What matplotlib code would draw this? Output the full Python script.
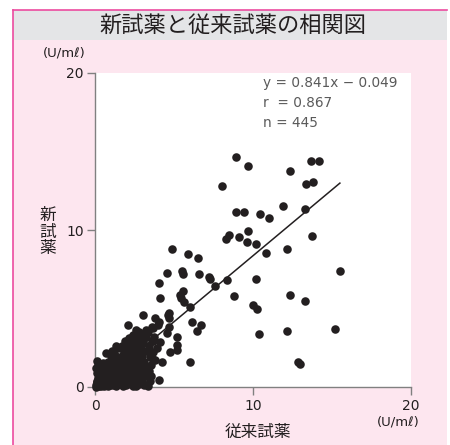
import matplotlib
matplotlib.use("Agg")
import matplotlib.pyplot as plt
from matplotlib.patches import Rectangle
from matplotlib.lines import Line2D
import numpy as np

plt.rcParams['font.family'] = ['Noto Sans CJK JP', 'DejaVu Sans']
num_font = ['DejaVu Sans', 'Noto Sans CJK JP']

# Données : réactif conventionnel (x) / nouveau réactif (y), en U/mℓ
x_outer = [8.92, 9.68, 8.04, 8.92, 9.43, 10.44, 11.01, 8.48, 8.29, 9.11,
           9.68, 9.62, 10.19, 4.87, 5.89, 6.52, 10.82, 13.67, 14.18, 12.34,
           13.35, 13.80, 11.90, 13.29, 12.15, 13.73, 15.51, 10.19, 12.34, 13.29,
           10.00, 10.25, 10.38, 12.15, 15.19, 12.85, 12.97]
y_outer = [14.65, 14.08, 12.80, 11.15, 11.15, 11.02, 10.76, 9.68, 9.43, 9.55,
           9.94, 9.24, 9.11, 8.79, 8.47, 8.22, 8.54, 14.39, 14.39, 13.76,
           12.93, 13.06, 11.53, 11.34, 8.79, 9.62, 7.39, 6.88, 5.86, 5.48,
           5.22, 4.97, 3.38, 3.57, 3.69, 1.59, 1.46]

x_mid = [4.56, 5.51, 5.57, 6.58, 7.22, 7.28, 8.35, 4.05, 7.59, 5.57,
         5.38, 4.11, 5.44, 5.63, 6.01, 8.80, 3.04, 4.68, 4.68, 3.80,
         4.05, 6.14, 6.71, 6.46, 2.09, 2.59, 3.67, 4.68, 4.56, 5.19,
         3.73, 2.15, 2.97, 3.04, 1.71, 2.41, 4.11, 5.19, 5.19, 4.75,
         6.01, 0.70, 3.61, 1.39, 1.96, 1.14, 4.24, 3.35, 3.54, 4.05,
         2.97, 3.35, 2.41, 1.77, 0.63, 0.32, 0.44, 0.13, 3.99, 4.62]
y_mid = [7.26, 7.39, 7.20, 7.20, 7.01, 6.88, 6.82, 6.62, 6.43, 6.11,
         5.86, 5.67, 5.67, 5.41, 5.10, 5.80, 4.59, 4.71, 4.39, 4.39,
         4.14, 4.14, 3.95, 3.57, 3.95, 3.63, 3.76, 3.82, 3.44, 3.18,
         3.18, 3.12, 3.18, 2.80, 2.55, 2.55, 2.87, 2.68, 2.36, 2.23,
         1.59, 2.17, 1.85, 1.91, 2.04, 1.53, 1.59, 0.96, 0.70, 0.45,
         0.32, 0.05, 0.05, 0.06, 1.08, 0.64, 0.45, 0.32, 3.95, 4.59]

x_core = [0.05, 0.10, 0.15, 0.20, 0.25, 0.30, 0.35, 0.40, 0.45, 0.50,
          0.55, 0.60, 0.65, 0.70, 0.75, 0.80, 0.85, 0.90, 0.95, 1.00,
          0.10, 0.20, 0.30, 0.15, 0.05, 0.40, 0.50, 0.60, 0.70, 0.80,
          0.90, 1.00, 0.25, 0.35, 0.45, 0.55, 0.65, 0.75, 0.85, 0.95,
          1.05, 1.10, 1.15, 1.20, 1.25, 1.30, 1.35, 1.40, 1.45, 1.50,
          1.55, 1.60, 1.65, 1.70, 1.75, 1.80, 1.85, 1.90, 1.95, 2.00,
          1.10, 1.30, 1.50, 1.70, 1.20, 1.40, 1.60, 1.80, 1.90, 1.05,
          2.05, 2.10, 2.15, 2.20, 2.25, 2.30, 2.35, 2.40, 2.45, 2.50,
          2.55, 2.60, 2.65, 2.70, 2.75, 2.80, 2.85, 2.90, 2.95, 3.00,
          2.20, 2.40, 2.60, 2.80, 3.00, 2.10, 2.50, 2.70, 2.30, 2.90,
          3.10, 3.20, 3.30, 3.40, 3.50, 3.60, 3.15, 3.45, 3.25, 3.55,
          3.70, 3.80, 3.90, 3.35, 3.05, 0.05, 0.10, 0.20, 0.30, 0.15,
          0.30, 0.60, 0.90, 1.20, 1.50, 1.80, 2.10, 2.40, 2.70, 3.00,
          0.40, 0.80, 1.20, 1.60, 2.00, 2.40, 2.80, 3.20, 3.60, 0.20,
          0.50, 0.80, 1.10, 1.40, 1.70, 2.00, 2.30, 2.60, 2.90, 3.20,
          1.00, 1.30, 1.60, 1.90, 2.20, 2.50, 2.80, 3.10, 3.40, 3.70,
          0.60, 1.00, 1.40, 1.80, 2.20, 2.60, 3.00]
y_core = [0.02, 0.10, 0.05, 0.20, 0.08, 0.30, 0.12, 0.05, 0.35, 0.20,
          0.50, 0.10, 0.30, 0.60, 0.15, 0.45, 0.80, 0.25, 0.55, 0.10,
          0.40, 0.60, 0.85, 0.25, 0.15, 0.70, 0.95, 0.75, 0.35, 0.05,
          1.00, 0.70, 0.45, 0.55, 0.15, 0.05, 0.95, 0.90, 0.20, 0.40,
          0.30, 0.90, 1.30, 0.10, 0.60, 1.50, 0.40, 1.10, 0.80, 0.20,
          1.70, 0.50, 1.25, 0.90, 0.35, 1.55, 0.70, 1.90, 0.15, 1.20,
          1.80, 0.05, 1.00, 1.95, 0.55, 0.25, 1.45, 0.20, 1.05, 1.55,
          0.50, 1.60, 2.30, 0.90, 1.30, 0.20, 2.00, 1.10, 1.75, 0.60,
          2.55, 1.40, 0.30, 2.10, 1.00, 1.80, 0.70, 2.40, 1.25, 0.40,
          2.70, 2.90, 0.05, 2.65, 2.00, 1.05, 1.95, 1.50, 2.60, 0.95,
          1.60, 2.30, 1.20, 2.60, 1.90, 2.90, 0.70, 0.40, 3.20, 1.40,
          2.20, 1.70, 2.50, 3.50, 2.90, 1.20, 0.90, 1.40, 1.15, 1.65,
          0.60, 1.20, 0.30, 1.90, 0.70, 2.40, 1.40, 0.80, 3.00, 1.10,
          1.30, 1.60, 2.20, 2.50, 2.80, 3.30, 3.50, 0.90, 3.80, 0.90,
          1.50, 1.20, 2.30, 1.90, 2.60, 0.40, 2.90, 2.20, 1.60, 3.60,
          2.00, 2.60, 0.30, 2.90, 1.70, 3.10, 0.20, 0.10, 1.00, 2.90,
          0.20, 1.30, 1.80, 1.10, 0.50, 0.70, 3.30]

slope = 0.841
intercept = -0.049
r_value = 0.867
n_value = 445
fit_range = [0.0, 15.5]

x_all = x_outer + x_mid + x_core
y_all = y_outer + y_mid + y_core

fig = plt.figure(figsize=(4.5, 4.45), dpi=100)
W, H = 450, 445

# Cadre rose, bandeau de titre gris
fig.patches.append(Rectangle((13 / W, 0), (447 - 13) / W, (H - 10) / H,
                             transform=fig.transFigure, facecolor='#fde6ef',
                             edgecolor='none', zorder=-2))
fig.patches.append(Rectangle((13 / W, (H - 40) / H), (447 - 13) / W, 30 / H,
                             transform=fig.transFigure, facecolor='#e4e5e7',
                             edgecolor='none', zorder=-1))
fig.lines.append(Line2D([13 / W, 447 / W], [(H - 10) / H] * 2,
                        transform=fig.transFigure, color='#ec4b9f', lw=1.2))
fig.lines.append(Line2D([13 / W, 13 / W], [0, (H - 10) / H],
                        transform=fig.transFigure, color='#ec4b9f', lw=1.2))

fig.text(233 / W, 1 - 25 / H, "新試薬と従来試薬の相関図", ha='center', va='center',
         fontsize=16, color='#231f20')

ax = fig.add_axes([95 / W, 1 - 387 / H, 316 / W, 314 / H])
ax.set_zorder(5)
ax.set_facecolor('white')
ax.scatter(x_all, y_all, s=38, color='#231f20', linewidths=0, zorder=3, clip_on=False)

xs = np.array(fit_range)
ax.plot(xs, slope * xs + intercept, color='#231f20', lw=1.1, zorder=2)

ax.set_xlim(0, 20)
ax.set_ylim(0, 20)
ax.set_xticks([0, 10, 20])
ax.set_yticks([0, 10, 20])
for side in ['top', 'right']:
    ax.spines[side].set_visible(False)
for side in ['left', 'bottom']:
    ax.spines[side].set_color('#808080')
    ax.spines[side].set_linewidth(1.0)
ax.tick_params(direction='out', length=6, width=1.0, color='#808080',
               labelsize=10, labelcolor='#231f20')
ax.tick_params(axis='x', pad=3)
ax.tick_params(axis='y', pad=2)
for lbl in ax.get_xticklabels() + ax.get_yticklabels():
    lbl.set_family(num_font)

# Statistiques de la régression
stats = [f"y = {slope:.3f}x − {abs(intercept):.3f}",
         f"r  = {r_value:.3f}",
         f"n = {n_value}"]
for i, s in enumerate(stats):
    fig.text(263 / W, 1 - (83 + 20 * i) / H, s, ha='left', va='center',
             fontsize=9.8, color='#5a5a5a', family=num_font, zorder=10)

# Unités et libellés d'axes
fig.text(64 / W, 1 - 53 / H, "(U/mℓ)", ha='center', va='center', fontsize=9.5,
         color='#231f20', family=num_font)
fig.text(398 / W, 1 - 422 / H, "(U/mℓ)", ha='center', va='center', fontsize=9.5,
         color='#231f20', family=num_font)
fig.text(258 / W, 1 - 432 / H, "従来試薬", ha='center', va='center', fontsize=12, color='#231f20')
fig.text(48 / W, 1 - 232 / H, "新\n試\n薬", ha='center', va='center', fontsize=12,
         color='#231f20', linespacing=1.0)

plt.savefig("out.png", dpi=100)
